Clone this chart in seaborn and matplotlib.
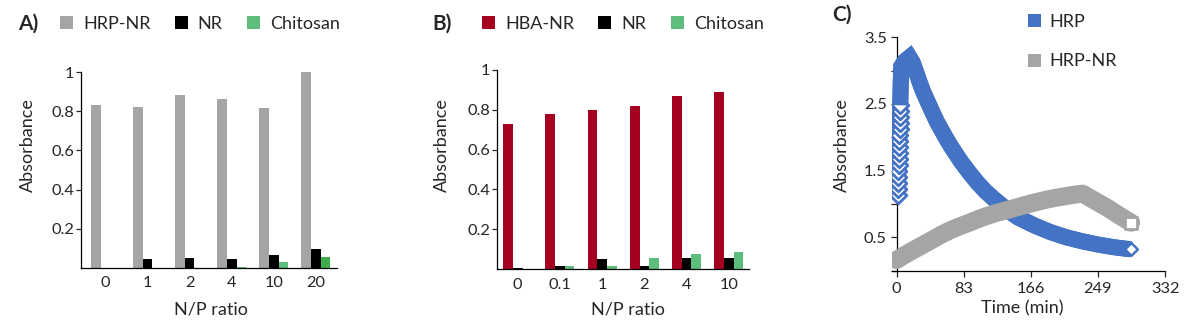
import numpy as np
import pandas as pd
import matplotlib
matplotlib.use("Agg")
import matplotlib.pyplot as plt
import seaborn as sns
from matplotlib.patches import Patch

# ---------------- data ----------------
# Panel A
ratio_a = ["0", "1", "2", "4", "10", "20"]
hrp_nr_a = [0.830, 0.820, 0.884, 0.864, 0.816, 0.998]
nr_a = [0.002, 0.047, 0.049, 0.044, 0.068, 0.098]
chitosan_a = [0.000, 0.000, 0.002, 0.003, 0.032, 0.056]

# Panel B
ratio_b = ["0", "0.1", "1", "2", "4", "10"]
hba_nr_b = [0.726, 0.776, 0.797, 0.817, 0.867, 0.887]
nr_b = [0.008, 0.018, 0.050, 0.018, 0.058, 0.058]
chitosan_b = [0.000, 0.018, 0.018, 0.058, 0.077, 0.088]

# Panel C (time in min, absorbance)
hrp_time = [1.5, 1.7, 1.9, 2.1, 2.3, 2.5, 2.7, 2.9, 3.1, 3.3, 3.5,
            3.7, 3.9, 4.1, 4.3, 4.5, 4.7, 4.9, 5.1, 5.3, 5.5, 5.7,
            10, 16, 20, 25, 29, 33, 39, 45, 50, 56, 62, 68, 74, 80, 90,
            100, 110, 120, 128, 137, 150, 160, 170, 180, 190, 200, 210,
            220, 230, 240, 250, 260, 270, 280, 290]
hrp_abs = [1.13, 1.22, 1.31, 1.40, 1.49, 1.58, 1.67, 1.76, 1.85, 1.94, 2.03,
           2.12, 2.21, 2.30, 2.39, 2.48, 2.58, 2.68, 2.78, 2.88, 2.98, 3.06,
           3.14, 3.20, 3.12, 2.95, 2.81, 2.68, 2.52, 2.36, 2.23, 2.10, 1.97,
           1.85, 1.74, 1.63, 1.47, 1.32, 1.19, 1.08, 1.00, 0.91, 0.80, 0.74,
           0.68, 0.63, 0.58, 0.54, 0.50, 0.47, 0.44, 0.415, 0.39, 0.37, 0.35,
           0.335, 0.32]
hrp_nr_time = [0, 5, 10, 18, 27, 36, 45, 56, 68, 79, 90, 100, 109, 123, 137,
               150, 168, 187, 200, 210, 220, 230, 245, 261, 275, 290]
hrp_nr_abs = [0.16, 0.20, 0.235, 0.29, 0.35, 0.41, 0.47, 0.545, 0.615, 0.67,
              0.72, 0.77, 0.81, 0.865, 0.91, 0.955, 1.015, 1.07, 1.10, 1.12,
              1.14, 1.155, 1.05, 0.94, 0.83, 0.72]
n_rise = 16  # first points of HRP series drawn with hollow diamonds

GRAY = "#a5a5a5"
BLACK = "#000000"
GREEN = "#5cbd7c"
GREEN_DARK = "#3dae4a"
RED = "#a50021"
BLUE = "#4472c4"

# ---------------- style ----------------
sns.set_style("ticks")
plt.rcParams["font.family"] = ["Lato", "DejaVu Sans"]
plt.rcParams["axes.linewidth"] = 0.9
plt.rcParams["axes.edgecolor"] = "#000000"

TICK_FS = 11.8
LABEL_FS = 13

fig = plt.figure(figsize=(12, 3.29), dpi=100)
axA = fig.add_axes([0.0675, 0.1854, 0.2133, 0.5957])
axB = fig.add_axes([0.4142, 0.1815, 0.2100, 0.6067])
axC = fig.add_axes([0.7431, 0.1772, 0.2278, 0.7094])


def bar_panel(ax, cats, names, values, colors, xlim, ylab_xy, xlab_xy):
    df = pd.DataFrame({
        "ratio": cats * len(names),
        "value": [v for vals in values for v in vals],
        "series": [n for n in names for _ in cats],
    })
    sns.barplot(data=df, x="ratio", y="value", hue="series", order=cats,
                hue_order=names, palette=colors, width=0.69, saturation=1,
                errorbar=None, linewidth=0, legend=False, ax=ax)
    ax.set_xlim(*xlim)
    ax.set_ylim(0, 1)
    ax.set_yticks([0.2, 0.4, 0.6, 0.8, 1.0])
    ax.set_yticklabels(["0.2", "0.4", "0.6", "0.8", "1"])
    sns.despine(ax=ax)
    ax.tick_params(axis="x", length=0, pad=6, labelsize=TICK_FS)
    ax.tick_params(axis="y", length=3.5, width=0.9, pad=1.5, labelsize=TICK_FS)
    ax.set_xlabel("N/P ratio", fontsize=LABEL_FS, va="center")
    ax.set_ylabel("Absorbance", fontsize=LABEL_FS, va="center")
    ax.xaxis.set_label_coords(*xlab_xy)
    ax.yaxis.set_label_coords(*ylab_xy)


bar_panel(axA, ratio_a, ["HRP-NR", "NR", "Chitosan"],
          [hrp_nr_a, nr_a, chitosan_a], [GRAY, BLACK, GREEN],
          (-0.58, 5.5), (-0.207, 0.628), (0.508, -0.214))
# darker green bar at N/P 20
axA.containers[2][5].set_facecolor(GREEN_DARK)

bar_panel(axB, ratio_b, ["HBA-NR", "NR", "Chitosan"],
          [hba_nr_b, nr_b, chitosan_b], [RED, BLACK, GREEN],
          (-0.49, 5.48), (-0.219, 0.623), (0.519, -0.20))


def top_legend(ax, labels, colors, x_px, y_px, ncol):
    handles = [Patch(facecolor=c, edgecolor="none") for c in colors]
    ax.legend(handles, labels, loc="center left",
              bbox_to_anchor=(x_px / 1200, 1 - y_px / 329),
              bbox_transform=fig.transFigure, ncol=ncol, frameon=False,
              fontsize=LABEL_FS, handlelength=0.72, handleheight=0.72,
              handletextpad=0.55, columnspacing=1.35, borderpad=0,
              borderaxespad=0)


top_legend(axA, ["HRP-NR", "NR", "Chitosan"], [GRAY, BLACK, GREEN], 60, 24, 3)
top_legend(axB, ["HBA-NR", "NR", "Chitosan"], [RED, BLACK, GREEN], 482, 24, 3)

# ---------------- panel C ----------------
sns.lineplot(x=hrp_time, y=hrp_abs, ax=axC, color=BLUE, linewidth=11.5,
             sort=False, estimator=None, solid_joinstyle="miter",
             solid_capstyle="butt", zorder=3)
sns.scatterplot(x=hrp_time[:n_rise], y=hrp_abs[:n_rise], ax=axC, marker="D",
                s=72, color="white", edgecolor=BLUE, linewidth=2.0, zorder=4)
# dense points above the hollow stack overlap into a solid band
sns.lineplot(x=hrp_time[n_rise - 1:], y=hrp_abs[n_rise - 1:], ax=axC,
             color=BLUE, linewidth=11.5, sort=False, estimator=None,
             solid_joinstyle="miter", solid_capstyle="butt", zorder=4.2)
sns.lineplot(x=hrp_nr_time, y=hrp_nr_abs, ax=axC, color=GRAY, linewidth=13,
             sort=False, estimator=None, solid_joinstyle="round",
             solid_capstyle="round", zorder=4.5)
sns.scatterplot(x=hrp_time[-1:], y=hrp_abs[-1:], ax=axC, marker="D", s=42,
                color="white", edgecolor=BLUE, linewidth=1.8, zorder=5)
sns.scatterplot(x=hrp_nr_time[-1:], y=hrp_nr_abs[-1:], ax=axC, marker="s",
                s=82, color="white", edgecolor=GRAY, linewidth=2.0, zorder=5)

axC.set_xlim(-6, 332)
axC.set_ylim(0, 3.5)
axC.set_xticks([0, 83, 166, 249, 332])
axC.set_yticks([0, 0.5, 1, 1.5, 2, 2.5, 3, 3.5])
axC.set_yticklabels(["", "0.5", "", "1.5", "", "2.5", "", "3.5"])
sns.despine(ax=axC)
axC.spines["left"].set_position(("data", 0))
axC.tick_params(axis="both", length=4, width=0.9, labelsize=TICK_FS)
axC.tick_params(axis="y", pad=3)
axC.tick_params(axis="x", pad=4)
axC.set_xlabel("Time (min)", fontsize=LABEL_FS, va="center")
axC.set_ylabel("Absorbance", fontsize=LABEL_FS, va="center")
axC.xaxis.set_label_coords(0.476, -0.16)
axC.yaxis.set_label_coords(-0.183, 0.539)

handlesC = [Patch(facecolor=BLUE, edgecolor="none"),
            Patch(facecolor=GRAY, edgecolor="none")]
axC.legend(handlesC, ["HRP", "HRP-NR"], loc="upper left",
           bbox_to_anchor=(1028 / 1200, 1 - 14 / 329),
           bbox_transform=fig.transFigure, frameon=False, fontsize=LABEL_FS,
           handlelength=0.72, handleheight=0.72, handletextpad=0.45,
           labelspacing=1.3, borderpad=0, borderaxespad=0)

# panel letters
for x_px, y_px, txt in [(18, 24, "A)"), (432, 24, "B)"), (832, 15, "C)")]:
    fig.text(x_px / 1200, 1 - y_px / 329, txt, fontsize=15, fontweight="bold",
             va="center", ha="left")

fig.savefig("out.png", dpi=100)
